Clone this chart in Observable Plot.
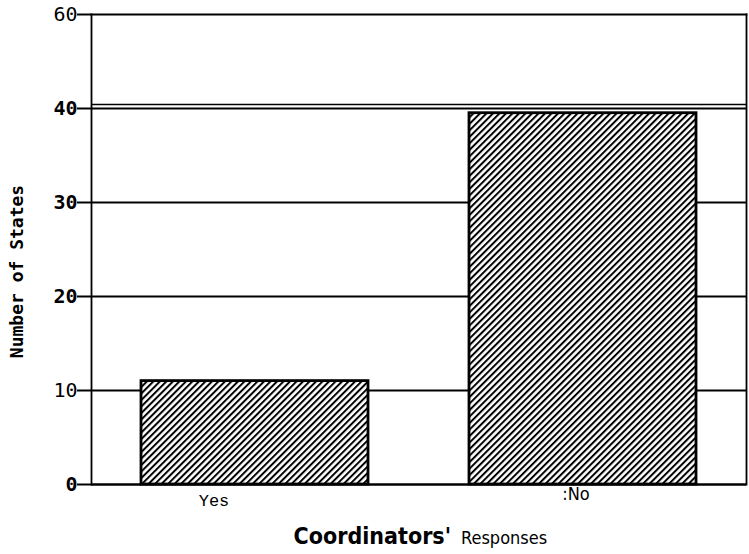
<!DOCTYPE html>
<html><head><meta charset="utf-8">
<script src="https://cdn.jsdelivr.net/npm/d3@7"></script>
<script src="https://cdn.jsdelivr.net/npm/@observablehq/plot@0.6"></script>
<style>body{margin:0;background:#fff} #chart svg{display:block}</style>
</head><body><div id="chart"></div>
<script>
const categories = ["Yes", ":No"];
const states = [11, 39.5];
const yTicks = [0, 10, 20, 30, 40, 50];
const yTickLabels = ["0", "10", "20", "30", "40", "60"];
const gridValues = [10, 20, 30, 40];
const yTitle = "Number of States";
const xTitleParts = ["Coordinators'", "Responses"];

const data = categories.map((c, i) => ({category: c, value: states[i]}));
const labelOf = new Map(yTicks.map((t, i) => [t, yTickLabels[i]]));
const lightSet = ["60", "10"];
const boldTicks = yTicks.filter(t => !lightSet.includes(labelOf.get(t)));
const lightTicks = yTicks.filter(t => lightSet.includes(labelOf.get(t)));
const narrow = "'Liberation Sans Narrow', 'DejaVu Sans Condensed', sans-serif";

const plot = Plot.plot({
  width: 749, height: 554,
  marginLeft: 91, marginRight: 3, marginTop: 14, marginBottom: 70,
  x: {domain: categories, paddingInner: 0.307, paddingOuter: 0.149, axis: null},
  y: {domain: [0, 50], axis: null},
  style: {background: "#fff", color: "#000"},
  marks: [
    Plot.ruleY(gridValues, {stroke: "#000", strokeWidth: 2}),
    Plot.ruleY([40], {stroke: "#000", strokeWidth: 1.6, dy: -4}),
    Plot.frame({anchor: "left", stroke: "#000", strokeWidth: 1.8}),
    Plot.frame({anchor: "right", stroke: "#000", strokeWidth: 1.8}),
    Plot.frame({anchor: "top", stroke: "#000", strokeWidth: 1.8}),
    Plot.barY(data, {x: "category", y: "value", fill: "url(#hatch)", stroke: "#000", strokeWidth: 2.8}),
    Plot.ruleY([0], {stroke: "#000", strokeWidth: 2.5}),
    Plot.axisY({ticks: boldTicks, tickSize: 14, tickPadding: 0, label: null,
      tickFormat: d => labelOf.get(d), fontSize: 20, fontWeight: "bold",
      fontFamily: "'DejaVu Sans Mono', monospace", strokeWidth: 2}),
    Plot.axisY({ticks: lightTicks, tickSize: 14, tickPadding: 0, label: null,
      tickFormat: d => labelOf.get(d), fontSize: 20,
      fontFamily: "'DejaVu Sans Mono', monospace", strokeWidth: 2}),
    Plot.text([categories[0]], {x: d => d, frameAnchor: "bottom", lineAnchor: "middle", dy: 16, dx: -41,
      fontFamily: "'Liberation Mono', monospace", fontSize: 17}),
    Plot.text([categories[1]], {x: d => d, frameAnchor: "bottom", lineAnchor: "middle", dy: 10, dx: -7,
      fontFamily: narrow, fontSize: 18}),
    Plot.text([yTitle], {frameAnchor: "left", rotate: -90, textAnchor: "middle", dx: -74, dy: 22,
      fontFamily: "'DejaVu Sans Mono', monospace", fontWeight: "bold", fontSize: 18}),
    Plot.text([xTitleParts[0]], {frameAnchor: "bottom", lineAnchor: "middle", textAnchor: "end", dy: 52, dx: 32,
      fontFamily: narrow, fontWeight: "bold", fontSize: 23}),
    Plot.text([xTitleParts[1]], {frameAnchor: "bottom", lineAnchor: "middle", textAnchor: "start", dy: 54, dx: 42,
      fontFamily: narrow, fontSize: 18})
  ]
});

const ns = "http://www.w3.org/2000/svg";
const defs = document.createElementNS(ns, "defs");
defs.innerHTML = `<pattern id="hatch" patternUnits="userSpaceOnUse" width="4.6" height="4.6" patternTransform="rotate(45)">
  <rect width="4.6" height="4.6" fill="#fff"/>
  <rect x="0" y="0" width="2" height="4.6" fill="#000"/>
</pattern>`;
plot.insertBefore(defs, plot.firstChild);
document.getElementById("chart").appendChild(plot);
</script>
</body></html>
